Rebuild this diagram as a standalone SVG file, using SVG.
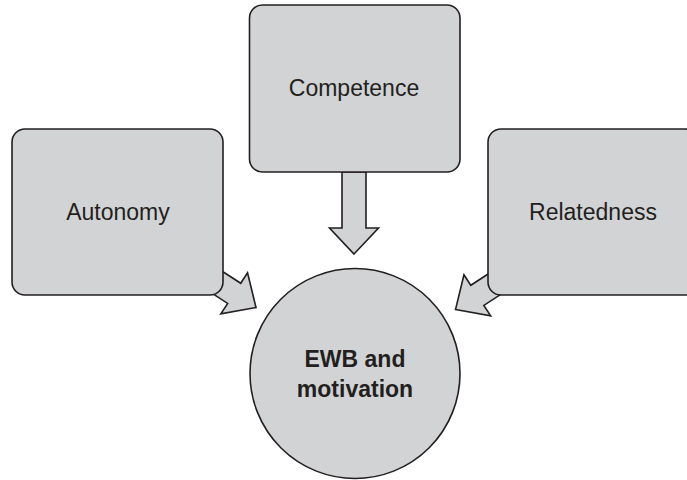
<svg xmlns="http://www.w3.org/2000/svg" width="687" height="480" viewBox="0 0 687 480">
<defs>
<style>
.shape{fill:#d2d3d5;stroke:#231f20;stroke-width:1.6;stroke-linejoin:miter}
.lbl{font-family:"Liberation Sans",Arial,sans-serif;font-size:23px;fill:#231f20;text-anchor:middle}
.bold{font-weight:bold}
</style>
<polygon id="arrow" class="shape" points="0,0 -26,-24.5 -26,-12 -82,-12 -82,12 -26,12 -26,24.5"/>
</defs>
<rect width="687" height="480" fill="#ffffff"/>
<g id="connectors">
<use href="#arrow" transform="translate(354,254) rotate(90)"/>
<use href="#arrow" transform="translate(256,307.5) rotate(33)"/>
<use href="#arrow" transform="translate(455.5,309.5) rotate(147)"/>
</g>
<g id="node-autonomy">
<rect class="shape" x="12" y="129" width="211" height="166" rx="13"/>
<text class="lbl" x="118" y="220">Autonomy</text>
</g>
<g id="node-competence">
<rect class="shape" x="249.5" y="5" width="210.5" height="167" rx="13"/>
<text class="lbl" x="354" y="96">Competence</text>
</g>
<g id="node-relatedness">
<rect class="shape" x="488" y="129" width="210" height="166" rx="13"/>
<text class="lbl" x="593" y="220">Relatedness</text>
</g>
<g id="node-ewb">
<circle class="shape" cx="355" cy="373.5" r="105"/>
<text class="lbl bold" x="355" y="367">EWB and</text>
<text class="lbl bold" x="355" y="397">motivation</text>
</g>
</svg>
